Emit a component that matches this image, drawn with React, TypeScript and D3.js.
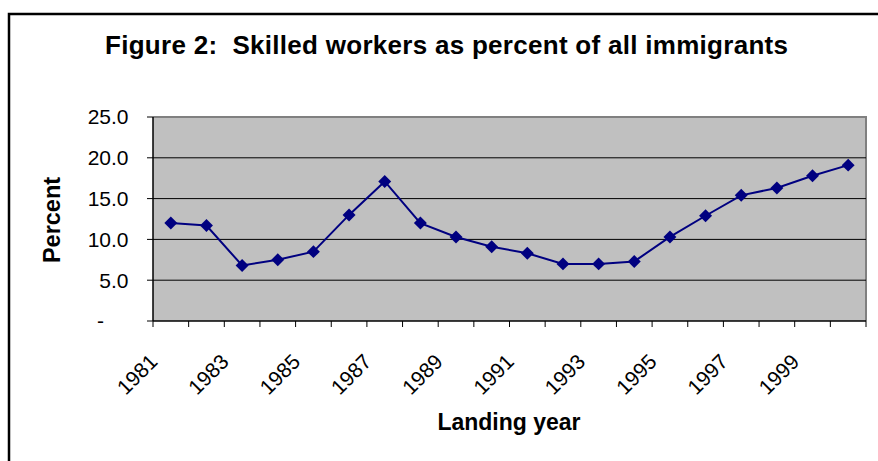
import React from "react";
import * as d3 from "d3";

const years: string[] = [
  "1981", "1982", "1983", "1984", "1985", "1986", "1987", "1988", "1989", "1990",
  "1991", "1992", "1993", "1994", "1995", "1996", "1997", "1998", "1999", "2000",
];
const percents: number[] = [
  12.0, 11.7, 6.8, 7.5, 8.5, 13.0, 17.1, 12.0, 10.3, 9.1,
  8.3, 7.0, 7.0, 7.3, 10.3, 12.9, 15.4, 16.3, 17.8, 19.1,
];
const yTicks: number[] = [0, 5, 10, 15, 20, 25];
const xLabelYears: string[] = ["1981", "1983", "1985", "1987", "1989", "1991", "1993", "1995", "1997", "1999"];

const W = 878;
const H = 461;
const plot = { left: 153, right: 866, top: 117, bottom: 321 };
const NAVY = "#000080";
const FONT = "'Liberation Sans', Arial, sans-serif";

export default function App() {
  const x = d3.scaleBand<string>().domain(years).range([plot.left, plot.right]).padding(0);
  const y = d3.scaleLinear().domain([0, 25]).range([plot.bottom, plot.top]);
  const cx = (yr: string) => (x(yr) as number) + x.bandwidth() / 2;

  const line = d3
    .line<number>()
    .x((_, i) => cx(years[i]))
    .y((d) => y(d));

  const diamond = d3.symbol().type(d3.symbolSquare).size(84)();

  const boundaries = years.map((yr) => x(yr) as number).concat([plot.right]);

  return (
    <svg
      width={W}
      height={H}
      style={{ position: "absolute", left: 0, top: 0, background: "#fff" }}
      fontFamily={FONT}
    >
      {/* outer chart border (top & left visible) */}
      <rect x={9} y={14} width={1000} height={1000} fill="none" stroke="#000" strokeWidth={2.5} />

      {/* title */}
      <text
        x={446.5}
        y={54}
        textAnchor="middle"
        fontSize={26}
        fontWeight="bold"
        textLength={683}
        lengthAdjust="spacing"
      >
        {"Figure 2:\u00a0 Skilled workers as percent of all immigrants"}
      </text>

      {/* plot area */}
      <rect
        x={plot.left}
        y={plot.top}
        width={plot.right - plot.left}
        height={plot.bottom - plot.top}
        fill="#C0C0C0"
      />
      <path
        d={`M${plot.left},${plot.top}H${plot.right}V${plot.bottom}`}
        fill="none"
        stroke="#808080"
        strokeWidth={2}
      />

      {/* gridlines */}
      {yTicks
        .filter((t) => t > 0 && t < 25)
        .map((t) => (
          <line key={`g${t}`} x1={plot.left} x2={plot.right} y1={y(t)} y2={y(t)} stroke="#000" strokeWidth={1} />
        ))}

      {/* y axis */}
      <line x1={plot.left} x2={plot.left} y1={plot.top} y2={plot.bottom} stroke="#000" strokeWidth={1.5} />
      {yTicks.map((t) => (
        <g key={`yt${t}`}>
          <line x1={plot.left - 6} x2={plot.left} y1={y(t)} y2={y(t)} stroke="#000" strokeWidth={1} />
          {t === 0 ? (
            <text x={100.5} y={y(t)} dy="0.35em" textAnchor="middle" fontSize={21}>
              -
            </text>
          ) : (
            <text x={128.5} y={y(t)} dy="0.35em" textAnchor="end" fontSize={21}>
              {d3.format(".1f")(t)}
            </text>
          )}
        </g>
      ))}

      {/* x axis */}
      <line x1={plot.left} x2={plot.right} y1={plot.bottom} y2={plot.bottom} stroke="#000" strokeWidth={1.5} />
      {boundaries.map((bx, i) => (
        <line key={`xt${i}`} x1={bx} x2={bx} y1={plot.bottom} y2={plot.bottom + 6} stroke="#000" strokeWidth={1} />
      ))}
      {xLabelYears.map((yr) => {
        const ax = cx(yr) - 12;
        const ay = 363;
        return (
          <text
            key={`xl${yr}`}
            x={ax}
            y={ay}
            textAnchor="end"
            fontSize={21}
            transform={`rotate(-45 ${ax} ${ay})`}
          >
            {yr}
          </text>
        );
      })}

      {/* axis titles */}
      <text x={509} y={430} textAnchor="middle" fontSize={23} fontWeight="bold">
        Landing year
      </text>
      <text
        x={0}
        y={0}
        textAnchor="middle"
        fontSize={23.5}
        fontWeight="bold"
        transform={`translate(59.5 ${(plot.top + plot.bottom) / 2 + 1}) rotate(-90)`}
      >
        Percent
      </text>

      {/* series */}
      <path d={line(percents) || ""} fill="none" stroke={NAVY} strokeWidth={2} />
      {percents.map((v, i) => (
        <path
          key={`m${i}`}
          d={diamond || ""}
          transform={`translate(${cx(years[i])} ${y(v)}) rotate(45)`}
          fill={NAVY}
        />
      ))}
    </svg>
  );
}
